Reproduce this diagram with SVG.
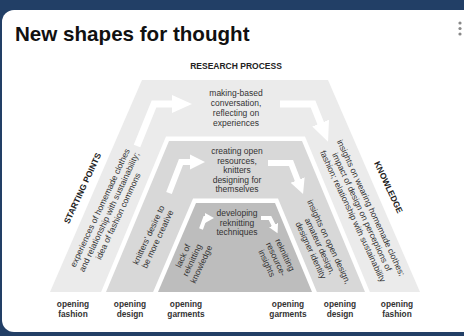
<svg xmlns="http://www.w3.org/2000/svg" width="464" height="336" viewBox="0 0 464 336">
<style>
.t{font-family:"Liberation Sans",Arial,sans-serif;fill:#333;font-size:8.5px;text-anchor:middle}
.b{font-weight:bold;fill:#222}
.lbl{font-family:"Liberation Sans",Arial,sans-serif;font-weight:bold;fill:#333;font-size:8.3px;text-anchor:middle}
.band{stroke:#fff;stroke-width:9;paint-order:stroke;stroke-linejoin:miter}
.arr{fill:none;stroke:#fff;stroke-linejoin:miter}
</style>
<defs>
<marker id="hB" markerUnits="userSpaceOnUse" viewBox="0 -10 22 20" markerWidth="22" markerHeight="20" refX="1" refY="0" orient="auto"><path d="M0,-9 L20,0 L0,9 z" fill="#fff"/></marker>
<marker id="hM" markerUnits="userSpaceOnUse" viewBox="0 -8 17 16" markerWidth="17" markerHeight="16" refX="1" refY="0" orient="auto"><path d="M0,-7.5 L15,0 L0,7.5 z" fill="#fff"/></marker>
<marker id="hS" markerUnits="userSpaceOnUse" viewBox="0 -6 11 12" markerWidth="11" markerHeight="12" refX="1" refY="0" orient="auto"><path d="M0,-5 L9,0 L0,5 z" fill="#fff"/></marker>
</defs>
<rect width="464" height="336" fill="#223f66"/>
<rect x="2" y="10" width="480" height="322" rx="12" fill="#fff"/>
<g id="menu" fill="#888"><circle cx="460" cy="23" r="1.6"/><circle cx="460" cy="28.5" r="1.6"/><circle cx="460" cy="34" r="1.6"/></g>
<text x="15" y="41" font-family="'Liberation Sans',Arial,sans-serif" font-weight="bold" font-size="20.6" fill="#111">New shapes for thought</text>
<text class="t b" x="236" y="69" font-size="9.3">RESEARCH PROCESS</text>

<g id="outer"><polygon points="142,80 328,80 420,292 50,292" fill="#ebebeb"/></g>
<g id="middle"><polygon class="band" points="169,141 302,141 365,292 106,292" fill="#d8d8d8"/></g>
<g id="inner"><polygon class="band" points="196,203 275,203 312,292 158,292" fill="#bdbdbd"/></g>

<g id="connectors">
<polyline class="arr" stroke-width="7" points="137,146 154,104 173,104" marker-end="url(#hB)"/>
<polyline class="arr" stroke-width="7" points="280,104 313,104 321,124" marker-end="url(#hB)"/>
<polyline class="arr" stroke-width="6" points="169,193 181,162 191,162" marker-end="url(#hM)"/>
<polyline class="arr" stroke-width="6" points="268,163 291,163 298,181" marker-end="url(#hM)"/>
<polyline class="arr" stroke-width="4" points="201,229 205,218 206,218" marker-end="url(#hS)"/>
<polyline class="arr" stroke-width="4" points="261,218 270,218 274,226" marker-end="url(#hS)"/>
</g>

<g id="process-outer"><text class="t"><tspan x="236" y="96">making-based</tspan><tspan x="236" y="106">conversation,</tspan><tspan x="236" y="116">reflecting on</tspan><tspan x="236" y="126">experiences</tspan></text></g>
<g id="process-middle"><text class="t"><tspan x="237" y="154">creating open</tspan><tspan x="237" y="163.5">resources,</tspan><tspan x="237" y="173">knitters</tspan><tspan x="237" y="182.5">designing for</tspan><tspan x="237" y="192">themselves</tspan></text></g>
<g id="process-inner"><text class="t"><tspan x="237" y="216">developing</tspan><tspan x="237" y="225.5">reknitting</tspan><tspan x="237" y="235">techniques</tspan></text></g>

<g id="starting-points"><text class="t b" font-size="9.5" transform="translate(82,188) rotate(-65)" y="3.5">STARTING POINTS</text></g>
<g id="start-outer"><text class="t" transform="translate(109,212) rotate(-65)"><tspan x="0" y="-7">experiences of homemade clothes</tspan><tspan x="0" y="3">and relationship with sustainability;</tspan><tspan x="0" y="13">idea of fashion commons</tspan></text></g>
<g id="start-middle"><text class="t" transform="translate(153,237) rotate(-65)"><tspan x="0" y="-2">knitters' desire to</tspan><tspan x="0" y="8">be more creative</tspan></text></g>
<g id="start-inner"><text class="t" transform="translate(192,260) rotate(-65)"><tspan x="0" y="-7">lack of</tspan><tspan x="0" y="3">reknitting</tspan><tspan x="0" y="13">knowledge</tspan></text></g>

<g id="knowledge"><text class="t b" font-size="9.5" transform="translate(389,187) rotate(65)" y="3.5">KNOWLEDGE</text></g>
<g id="know-outer"><text class="t" transform="translate(362,212) rotate(65)"><tspan x="0" y="-7">insights on wearing homemade clothes;</tspan><tspan x="0" y="3">impact of design on perceptions of</tspan><tspan x="0" y="13">fashion; relationship with sustainability</tspan></text></g>
<g id="know-middle"><text class="t" transform="translate(320,246) rotate(65)"><tspan x="0" y="-7">insights on open design,</tspan><tspan x="0" y="3">amateur design,</tspan><tspan x="0" y="13">designer identity</tspan></text></g>
<g id="know-inner"><text class="t" transform="translate(276,259) rotate(65)"><tspan x="0" y="-7">reknitting</tspan><tspan x="0" y="3">resource-</tspan><tspan x="0" y="13">insights</tspan></text></g>

<g id="labels">
<text class="lbl"><tspan x="73" y="307">opening</tspan><tspan x="73" y="316.5">fashion</tspan></text>
<text class="lbl"><tspan x="130" y="307">opening</tspan><tspan x="130" y="316.5">design</tspan></text>
<text class="lbl"><tspan x="186" y="307">opening</tspan><tspan x="186" y="316.5">garments</tspan></text>
<text class="lbl"><tspan x="288" y="307">opening</tspan><tspan x="288" y="316.5">garments</tspan></text>
<text class="lbl"><tspan x="340" y="307">opening</tspan><tspan x="340" y="316.5">design</tspan></text>
<text class="lbl"><tspan x="397" y="307">opening</tspan><tspan x="397" y="316.5">fashion</tspan></text>
</g>
</svg>
